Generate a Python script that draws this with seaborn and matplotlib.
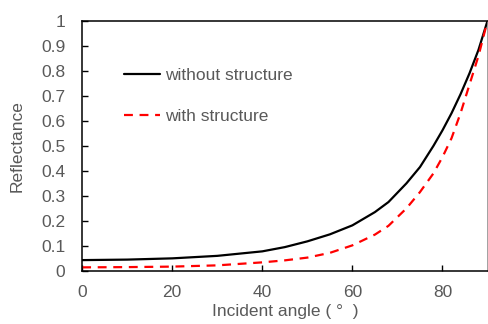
import numpy as np
import pandas as pd
import matplotlib
matplotlib.use("Agg")
import matplotlib.pyplot as plt
import seaborn as sns

# values
angle = [0, 10, 20, 30, 40, 45, 50, 55, 60, 65, 68, 72, 75, 78, 80, 82, 84, 86, 88, 90]
without_structure = [0.043, 0.045, 0.050, 0.060, 0.078, 0.095, 0.118, 0.146, 0.182,
                     0.235, 0.275, 0.350, 0.415, 0.500, 0.562, 0.630, 0.706, 0.790, 0.884, 1.0]
with_structure = [0.014, 0.015, 0.017, 0.022, 0.034, 0.042, 0.053, 0.072, 0.102,
                  0.145, 0.180, 0.250, 0.315, 0.390, 0.455, 0.530, 0.630, 0.745, 0.860, 1.0]
labels = ["without structure", "with structure"]
x_ticks = [0, 20, 40, 60, 80]
y_ticks = [0, 0.1, 0.2, 0.3, 0.4, 0.5, 0.6, 0.7, 0.8, 0.9, 1]

df = pd.concat([
    pd.DataFrame({"angle": angle, "R": without_structure, "case": labels[0]}),
    pd.DataFrame({"angle": angle, "R": with_structure, "case": labels[1]}),
])

sns.set_theme(style="ticks")
plt.rcParams["font.family"] = ["Liberation Sans", "DejaVu Sans"]
grey = "#595959"
fs = 12.5

fig = plt.figure(figsize=(4.89, 3.24), dpi=100)
ax = fig.add_axes([0.168, 0.164, 0.829, 0.772])

sns.lineplot(data=df, x="angle", y="R", hue="case", style="case",
             palette={labels[0]: "black", labels[1]: "#ff0000"},
             dashes={labels[0]: "", labels[1]: (4, 3)},
             linewidth=1.6, ax=ax)

ax.set_xlim(0, 90)
ax.set_ylim(0, 1)
ax.set_xticks(x_ticks)
ax.set_yticks(y_ticks)
ax.set_yticklabels([f"{v:g}" for v in y_ticks])
ax.tick_params(direction="in", length=4, width=1, color="black",
               labelsize=fs, labelcolor=grey)
ax.tick_params(axis="x", pad=10)
ax.tick_params(axis="y", pad=12)
for side in ["top", "right", "left", "bottom"]:
    ax.spines[side].set_visible(True)
    ax.spines[side].set_color("black")
    ax.spines[side].set_linewidth(1.1)
ax.spines["right"].set_color("#888888")

ax.set_xlabel("Incident angle ( °  )", fontsize=fs, color=grey, labelpad=3)
ax.set_ylabel("Reflectance", fontsize=fs, color=grey, labelpad=12)

leg = ax.legend(loc="upper left", bbox_to_anchor=(0.085, 0.84), frameon=False,
                fontsize=fs, labelspacing=1.5, handlelength=2.1,
                handletextpad=0.3, borderaxespad=0)
for t in leg.get_texts():
    t.set_color(grey)

fig.savefig("out.png", dpi=100)
